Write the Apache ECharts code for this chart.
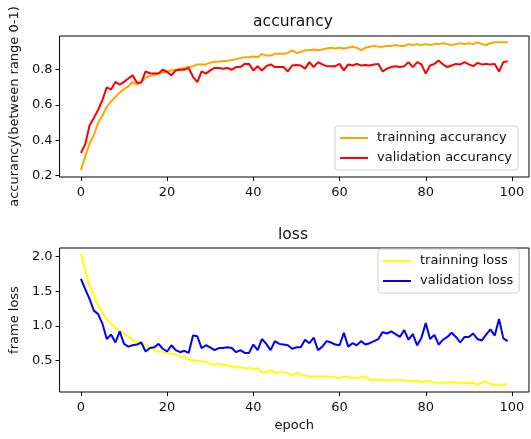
<!DOCTYPE html>
<html>
<head>
<meta charset="utf-8">
<script src="https://cdn.jsdelivr.net/npm/echarts@6/dist/echarts.min.js"></script>
<style>html,body{margin:0;padding:0;background:#fff}#c{width:531px;height:439px}</style>
</head>
<body>
<div id="c"></div>
<script>
// ---- data ----
const trainAcc = [
 0.23,0.31,0.38,0.43,0.50,0.54,0.59,0.62,0.645,0.67,
 0.69,0.705,0.73,0.715,0.73,0.755,0.765,0.77,0.78,0.785,
 0.79,0.795,0.80,0.805,0.81,0.815,0.82,0.83,0.83,0.83,
 0.84,0.845,0.845,0.85,0.85,0.855,0.86,0.865,0.87,0.87,
 0.875,0.87,0.89,0.88,0.88,0.89,0.89,0.89,0.895,0.91,
 0.895,0.90,0.91,0.91,0.915,0.91,0.915,0.92,0.925,0.92,
 0.925,0.92,0.925,0.93,0.925,0.91,0.925,0.93,0.935,0.93,
 0.93,0.935,0.935,0.94,0.935,0.935,0.945,0.94,0.945,0.94,
 0.945,0.94,0.945,0.945,0.95,0.945,0.94,0.945,0.95,0.945,
 0.95,0.945,0.955,0.945,0.94,0.95,0.955,0.955,0.955,0.955
];
const valAcc = [
 0.328,0.378,0.484,0.527,0.573,0.629,0.70,0.688,0.731,0.716,
 0.731,0.75,0.768,0.726,0.728,0.791,0.78,0.778,0.778,0.80,
 0.787,0.768,0.796,0.80,0.80,0.81,0.76,0.73,0.79,0.778,
 0.796,0.81,0.81,0.805,0.81,0.80,0.815,0.815,0.833,0.833,
 0.796,0.82,0.796,0.82,0.83,0.815,0.815,0.815,0.79,0.824,
 0.826,0.824,0.806,0.843,0.815,0.843,0.83,0.82,0.82,0.82,
 0.833,0.796,0.83,0.824,0.833,0.824,0.826,0.824,0.83,0.833,
 0.79,0.806,0.815,0.82,0.815,0.82,0.843,0.815,0.843,0.83,
 0.778,0.824,0.833,0.852,0.83,0.815,0.824,0.833,0.83,0.843,
 0.83,0.82,0.838,0.83,0.833,0.83,0.833,0.79,0.843,0.848
];
const trainLoss = [
 2.04,1.80,1.58,1.44,1.29,1.20,1.10,1.03,0.97,0.93,
 0.88,0.85,0.80,0.76,0.76,0.72,0.68,0.65,0.63,0.62,
 0.61,0.59,0.59,0.55,0.56,0.52,0.50,0.50,0.49,0.48,
 0.45,0.44,0.45,0.44,0.43,0.41,0.41,0.40,0.39,0.39,
 0.37,0.39,0.33,0.33,0.36,0.32,0.33,0.33,0.32,0.28,
 0.32,0.30,0.28,0.27,0.27,0.27,0.27,0.27,0.26,0.26,
 0.24,0.27,0.26,0.25,0.24,0.26,0.26,0.22,0.22,0.22,
 0.22,0.22,0.21,0.22,0.22,0.21,0.20,0.20,0.21,0.19,
 0.20,0.20,0.18,0.18,0.18,0.18,0.19,0.18,0.18,0.175,
 0.18,0.175,0.15,0.18,0.20,0.16,0.15,0.15,0.15,0.16
];
const valLoss = [
 1.68,1.53,1.39,1.22,1.17,1.03,0.81,0.875,0.76,0.92,
 0.74,0.70,0.72,0.73,0.76,0.63,0.68,0.69,0.74,0.67,
 0.63,0.72,0.65,0.62,0.64,0.61,0.86,0.85,0.68,0.72,
 0.69,0.65,0.68,0.68,0.69,0.68,0.62,0.65,0.61,0.61,
 0.73,0.65,0.81,0.74,0.65,0.78,0.74,0.73,0.72,0.67,
 0.69,0.69,0.80,0.75,0.83,0.65,0.70,0.78,0.76,0.73,
 0.72,0.90,0.70,0.75,0.72,0.78,0.73,0.75,0.78,0.81,
 0.91,0.89,0.92,0.88,0.84,0.94,0.80,0.88,0.72,0.83,
 1.04,0.81,0.87,0.73,0.80,0.84,0.90,0.84,0.76,0.84,
 0.84,0.89,0.81,0.79,0.875,0.95,0.86,1.10,0.82,0.78
];
const xTicks = [0, 20, 40, 60, 80, 100];
const accTicks = [0.2, 0.4, 0.6, 0.8];
const lossTicks = [0.5, 1.0, 1.5, 2.0];
const seriesNames = ['trainning accurancy', 'validation accurancy', 'trainning loss', 'validation loss'];

// ---- chart ----
const FONT = 'DejaVu Sans';
const TXT = '#111';
const pairs = arr => arr.map((v, i) => [i, v]);

function xAxisCfg(gridIndex, name) {
  return {
    type: 'value', gridIndex, min: -4.95, max: 103.95, position: 'bottom',
    name: name || '', nameLocation: 'middle', nameGap: 27,
    nameTextStyle: { fontFamily: FONT, fontSize: 13, color: TXT },
    axisLine: { show: false, onZero: false },
    splitLine: { show: false },
    axisTick: { show: true, inside: false, length: 4, lineStyle: { color: '#000' }, customValues: xTicks },
    axisLabel: { fontFamily: FONT, fontSize: 13, color: TXT, margin: 9, customValues: xTicks,
                 formatter: v => String(v) }
  };
}
function yAxisCfg(gridIndex, min, max, ticks, name, fmt) {
  return {
    type: 'value', gridIndex, min, max, position: 'left',
    name, nameLocation: 'middle', nameGap: 37,
    nameTextStyle: { fontFamily: FONT, fontSize: 13, color: TXT },
    axisLine: { show: false, onZero: false },
    splitLine: { show: false },
    axisTick: { show: true, inside: false, length: 4, lineStyle: { color: '#000' }, customValues: ticks },
    axisLabel: { fontFamily: FONT, fontSize: 13, color: TXT, margin: 7, customValues: ticks,
                 formatter: fmt }
  };
}
function legendCfg(names, left, top) {
  return {
    data: names.map(n => ({ name: n, icon: 'rect' })),
    orient: 'vertical', left, top, align: 'left',
    itemWidth: 28, itemHeight: 2, itemGap: 4,
    padding: [4, 6, 4, 5],
    borderColor: '#d0d0d0', borderWidth: 1, borderRadius: 3,
    backgroundColor: 'rgba(255,255,255,0.8)',
    textStyle: { fontFamily: FONT, fontSize: 13, color: TXT, lineHeight: 16, padding: [0, 0, 0, 4] },
    selectedMode: false
  };
}
function lineSeries(name, data, color, xi, yi) {
  return { name, type: 'line', xAxisIndex: xi, yAxisIndex: yi, data: pairs(data),
           showSymbol: false, symbol: 'none', lineStyle: { color, width: 2 }, itemStyle: { color },
           animation: false, z: 3 };
}

const chart = echarts.init(document.getElementById('c'), null, { renderer: 'canvas' });
chart.setOption({
  animation: false,
  backgroundColor: '#fff',
  title: [
    { text: 'accurancy', left: 293, top: 14, textAlign: 'center', padding: 0,
      textStyle: { fontFamily: FONT, fontSize: 15.5, fontWeight: 'normal', color: TXT } },
    { text: 'loss', left: 293, top: 227, textAlign: 'center', padding: 0,
      textStyle: { fontFamily: FONT, fontSize: 15.5, fontWeight: 'normal', color: TXT } }
  ],
  grid: [
    { left: 57, top: 36, width: 472, height: 141, show: true, borderColor: '#000', borderWidth: 1, containLabel: false },
    { left: 57, top: 248, width: 472, height: 144, show: true, borderColor: '#000', borderWidth: 1, containLabel: false }
  ],
  legend: [
    legendCfg([seriesNames[0], seriesNames[1]], 335, 126),
    legendCfg([seriesNames[2], seriesNames[3]], 378, 249)
  ],
  xAxis: [ xAxisCfg(0, ''), xAxisCfg(1, 'epoch') ],
  yAxis: [
    yAxisCfg(0, 0.192, 0.991, accTicks, 'accurancy(between range 0-1)', v => v.toFixed(1)),
    yAxisCfg(1, 0.045, 2.125, lossTicks, 'frame loss', v => v.toFixed(1))
  ],
  series: [
    lineSeries(seriesNames[0], trainAcc, '#FFA500', 0, 0),
    lineSeries(seriesNames[1], valAcc, '#FF0000', 0, 0),
    lineSeries(seriesNames[2], trainLoss, '#FFFF00', 1, 1),
    lineSeries(seriesNames[3], valLoss, '#0000FF', 1, 1)
  ]
});
</script>
</body>
</html>
